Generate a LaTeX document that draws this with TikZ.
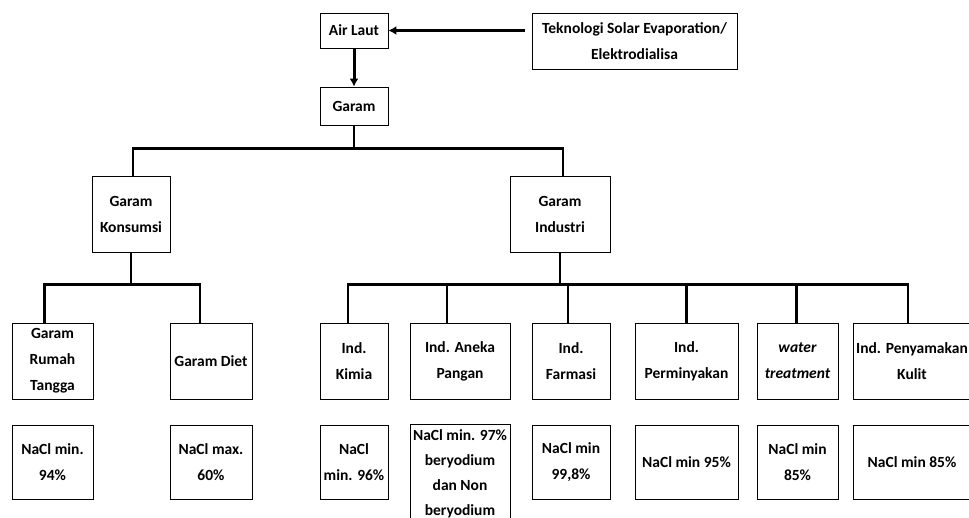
\documentclass[tikz,border=0pt]{standalone}
\usepackage{fontspec}
\setmainfont{Carlito}
\usepackage{tikz}
\usetikzlibrary{arrows.meta, calc}

\begin{document}
\begin{tikzpicture}[x=1pt, y=-1pt,
  every node/.style={font=\fontsize{15.5}{26}\selectfont\bfseries},
  box/.style={draw, line width=0.8pt, inner sep=0pt, align=center},
  link/.style={line width=2.6pt},
  arr/.style={line width=3pt, -{Latex[length=8pt,width=9pt]}}]
\useasboundingbox (0,0) rectangle (969,518);
\clip (0,0) rectangle (969,518);
% top of the chart
\node[box, minimum width=68, minimum height=35] (airlaut) at (354,30.5) {Air Laut};
\node[box, minimum width=205, minimum height=56] (tekno) at (634.5,41) {Teknologi Solar Evaporation/\\Elektrodialisa};
\node[box, minimum width=68, minimum height=38] (garam) at (354,106) {Garam};
\draw[arr, shorten <=7pt] (tekno.west |- airlaut) -- (airlaut.east);
\draw[arr] (airlaut) -- (garam);
% second level
\node[box, minimum width=78, minimum height=76] (konsumsi) at (131,214) {Garam\\Konsumsi};
\node[box, minimum width=100, minimum height=76] (industri) at (560,214) {Garam\\Industri};
\draw[link] (garam.south) -- ++(0,23) coordinate (gbus);
\draw[link] ([xshift=2]konsumsi.north) |- (gbus) -| ([xshift=3]industri.north);
% third level
\node[box, minimum width=81, minimum height=76] (rt) at (52.5,361) {Garam\\Rumah\\Tangga};
\node[box, minimum width=82, minimum height=76] (diet) at (211,361) {Garam Diet};
\node[box, minimum width=68, minimum height=76] (kimia) at (354,361) {Ind.\\Kimia};
\node[box, minimum width=100, minimum height=76] (aneka) at (460,361) {Ind. Aneka\\Pangan};
\node[box, minimum width=78, minimum height=76] (farmasi) at (571,361) {Ind.\\Farmasi};
\node[box, minimum width=103, minimum height=76] (minyak) at (686.5,361) {Ind.\\Perminyakan};
\node[box, minimum width=81, minimum height=76] (water) at (797.5,361) {\itshape water\\\itshape treatment};
\node[box, minimum width=118, minimum height=76] (kulit) at (912,361) {Ind. Penyamakan\\Kulit};
\draw[link] (konsumsi.south) -- ++(0,32) coordinate (kbus);
\draw[link] ([xshift=-8]rt.north) |- (kbus) -| ([xshift=-11]diet.north);
\draw[link] (industri.south) -- ++(0,32) coordinate (ibus);
\draw[link] ([xshift=-6]kimia.north) |- (ibus) -| ([xshift=-4]kulit.north);
\foreach \n/\s in {aneka/-13, farmasi/-3, minyak/0, water/-1}
  \draw[link] ([xshift=\s]\n.north) -- ++(0,-39);
% NaCl content
\node[box, minimum width=81, minimum height=74] (rtnacl) at (52.5,462) {NaCl min.\\94\%};
\node[box, minimum width=82, minimum height=74] (dietnacl) at (211,462) {NaCl max.\\60\%};
\node[box, minimum width=68, minimum height=74] (kimianacl) at (354,462) {NaCl\\min. 96\%};
\node[box, minimum width=100, minimum height=98, anchor=north, font=\fontsize{15.5}{25}\selectfont\bfseries] (anekanacl) at (460,424) {NaCl min. 97\%\\beryodium\\dan Non\\beryodium};
\node[box, minimum width=78, minimum height=74] (farmasinacl) at (571,462) {NaCl min\\99,8\%};
\node[box, minimum width=103, minimum height=74] (minyaknacl) at (686.5,462) {NaCl min 95\%};
\node[box, minimum width=81, minimum height=74] (waternacl) at (797.5,462) {NaCl min\\85\%};
\node[box, minimum width=118, minimum height=74] (kulitnacl) at (912,462) {NaCl min 85\%};
\end{tikzpicture}
\end{document}
